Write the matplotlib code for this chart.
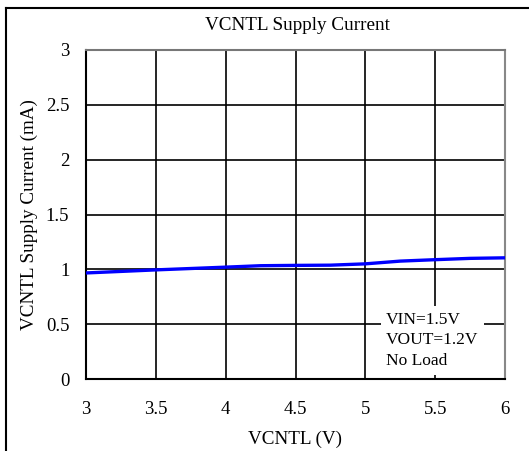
import numpy as np
import matplotlib
matplotlib.use('Agg')
import matplotlib.pyplot as plt
from matplotlib.lines import Line2D

plt.rcParams['font.family'] = ['Liberation Serif', 'DejaVu Serif']

# Supply current vs VCNTL
vcntl = [3.0, 3.5, 4.0, 4.25, 4.5, 4.75, 5.0, 5.25, 5.5, 5.75, 6.0]
current_ma = [0.967, 0.995, 1.02, 1.033, 1.036, 1.038, 1.05, 1.075, 1.088, 1.10, 1.105]

x_ticks = [3, 3.5, 4, 4.5, 5, 5.5, 6]
x_labels = ['3', '3.5', '4', '4.5', '5', '5.5', '6']
y_ticks = [0, 0.5, 1, 1.5, 2, 2.5, 3]
y_labels = ['0', '0.5', '1', '1.5', '2', '2.5', '3']

fig = plt.figure(figsize=(5.29, 4.51), dpi=100)
ax = fig.add_axes([86 / 529, 72 / 451, 419 / 529, 329 / 451])

ax.plot(vcntl, current_ma, '-', color='#0000ff', linewidth=2.4, zorder=3)

ax.set_xlim(3, 6)
ax.set_ylim(0, 3)
ax.set_xticks(x_ticks)
ax.set_xticklabels(x_labels)
ax.set_yticks(y_ticks)
ax.set_yticklabels(y_labels)
ax.tick_params(length=0, labelsize=13.5)
ax.tick_params(axis='x', pad=16)
ax.tick_params(axis='y', pad=12)
ax.grid(True, color='black', linewidth=1.2)

ax.spines['left'].set_color('black')
ax.spines['bottom'].set_color('black')
ax.spines['left'].set_linewidth(1.5)
ax.spines['bottom'].set_linewidth(1.5)
ax.spines['top'].set_color('#777777')
ax.spines['right'].set_color('#888888')
ax.spines['top'].set_linewidth(1.5)
ax.spines['right'].set_linewidth(1.5)

ax.set_xlabel('VCNTL (V)', fontsize=13.8, labelpad=9)
ax.set_ylabel('VCNTL Supply Current (mA)', fontsize=13.8, labelpad=6)
fig.text(297 / 529, 1 - 26 / 451, 'VCNTL Supply Current', ha='center', va='center', fontsize=13.8)

ax.text(5.15, 0.09, 'VIN=1.5V\nVOUT=1.2V\nNo Load', fontsize=12.5, linespacing=1.4,
        ha='left', va='bottom', zorder=4,
        bbox=dict(facecolor='white', edgecolor='none', pad=4))

# outer frame (left and top only, as in the source)
fig.add_artist(Line2D([6 / 529, 6 / 529], [0, 1 - 8 / 451], color='black', linewidth=1.5,
                      transform=fig.transFigure))
fig.add_artist(Line2D([6 / 529, 1], [1 - 8 / 451, 1 - 8 / 451], color='black', linewidth=1.5,
                      transform=fig.transFigure))

fig.savefig('out.png', dpi=100)
